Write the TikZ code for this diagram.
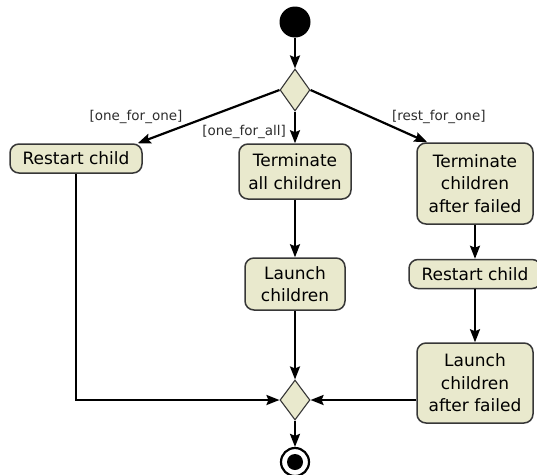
\documentclass[tikz,border=0pt]{standalone}
\usepackage{fontspec}
\setmainfont{DejaVu Sans}
\usepackage{tikz}
\usetikzlibrary{shapes.geometric,arrows.meta,positioning}

\definecolor{actfill}{RGB}{233,233,205}
\definecolor{actline}{RGB}{55,55,55}
\definecolor{guardtext}{RGB}{45,45,45}

\tikzset{
  act/.style={draw=actline, fill=actfill, line width=1.5pt, rounded corners=9pt,
    inner sep=0pt, align=center, font=\fontsize{17}{22.5}\selectfont},
  decision/.style={diamond, draw=actline, fill=actfill, line width=1.1pt,
    inner sep=0pt, minimum width=30pt, minimum height=42pt},
  init/.style={circle, fill=black, inner sep=0pt, minimum size=31pt},
  final/.style={circle, draw=black, line width=2.2pt, inner sep=0pt, minimum size=28pt,
    path picture={\fill[black] (path picture bounding box.center) circle (8pt);}},
  guard/.style={inner sep=1pt, text=guardtext, font=\fontsize{13.5}{15}\selectfont},
  flow/.style={line width=2.2pt, -{Stealth[length=13pt,width=10pt,inset=2pt]}}
}

\begin{document}
\begin{tikzpicture}[x=1pt,y=-1pt]
    \useasboundingbox (0,0) rectangle (537,474);
    %states
    \node[init] (start) at (295,22) {};
    \node[decision] (dec1) at (295,90) {};
    \node[act, minimum width=132pt, minimum height=29pt] (rc1) at (76,158.5) {Restart child};
    \node[act, minimum width=112pt, minimum height=55pt] (tac) at (295,171.5) {Terminate\\all children};
    \node[act, minimum width=116pt, minimum height=81pt] (tcf) at (475,183.5) {Terminate\\children\\after failed};
    \node[act, minimum width=100pt, minimum height=52pt] (lc) at (295,284) {Launch\\children};
    \node[act, minimum width=132pt, minimum height=29pt] (rc2) at (475,274) {Restart child};
    \node[act, minimum width=116pt, minimum height=80pt] (lcf) at (475,383) {Launch\\children\\after failed};
    \node[decision, minimum height=40pt] (dec2) at (295,400) {};
    \node[final] (end) at (295,462) {};
    %edges
    \path[flow]
     (start) edge (dec1)
     (dec1.west) edge node[guard, pos=0.67, above left]{[one\_for\_one]} ([xshift=-5pt]rc1.north east)
     (dec1) edge node[guard, pos=0.64, left=7pt]{[one\_for\_all]} (tac)
     (dec1.east) edge node[guard, pos=0.68, above right]{[rest\_for\_one]} ([xshift=11pt]tcf.north west)
     (tac) edge (lc)
     (lc) edge (dec2)
     (tcf) edge (rc2)
     (rc2) edge (lcf)
     (lcf.west |- dec2.east) edge (dec2.east)
     (dec2) edge (end);
    \draw[flow] (rc1.south) |- (dec2.west);
\end{tikzpicture}
\end{document}
